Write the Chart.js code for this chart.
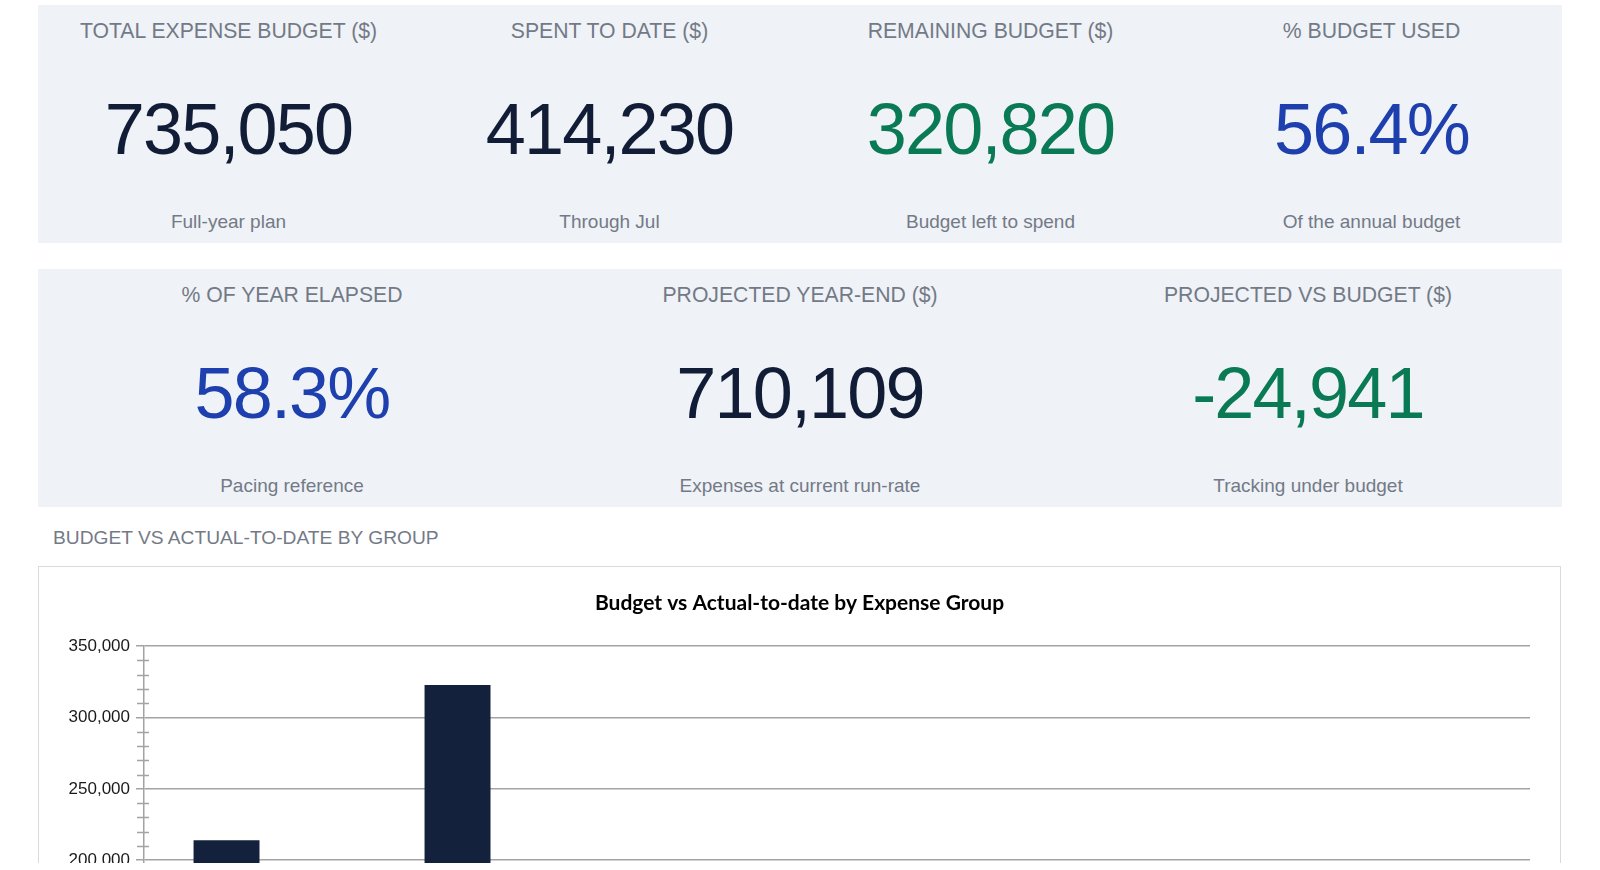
<!DOCTYPE html>
<html>
<head>
<meta charset="utf-8">
<title>Expense Budget Dashboard</title>
<script src="https://cdn.jsdelivr.net/npm/chart.js@4.4.1/dist/chart.umd.min.js"></script>
<style>
  html, body { margin: 0; padding: 0; background: #fff; }
  body { font-family: "Liberation Sans", Arial, sans-serif; }
  #page { position: relative; width: 1600px; height: 863px; overflow: hidden; }
  .panel { position: absolute; left: 38px; width: 1524px; height: 238px; background: #eff2f6; display: flex; }
  .kpi { position: relative; flex: 1; text-align: center; }
  .kpi .label { position: absolute; left: 0; right: 0; top: 14px; font-size: 21.2px; line-height: 24px; color: #737a87; }
  .kpi .value { position: absolute; left: 0; right: 0; top: 84px; font-size: 72px; line-height: 80px; letter-spacing: -1.8px; color: #111c36; }
  .kpi .sub { position: absolute; left: 0; right: 0; top: 206px; font-size: 19px; line-height: 22px; color: #737a87; }
  .green { color: #0a7a55 !important; }
  .blue { color: #1e40af !important; }
  #section { position: absolute; left: 53px; top: 527px; font-size: 19.2px; line-height: 22px; color: #737a87; }
  #chartBox { position: absolute; left: 38px; top: 566px; width: 1521px; height: 700px; border: 1px solid #dadada; background: #fff; }
  #chartBox canvas { position: absolute; left: 0; top: 0; }
</style>
</head>
<body>
<div id="page">
  <div class="panel" style="top:5px">
    <div class="kpi"><div class="label">TOTAL EXPENSE BUDGET ($)</div><div class="value">735,050</div><div class="sub">Full-year plan</div></div>
    <div class="kpi"><div class="label">SPENT TO DATE ($)</div><div class="value">414,230</div><div class="sub">Through Jul</div></div>
    <div class="kpi"><div class="label">REMAINING BUDGET ($)</div><div class="value green">320,820</div><div class="sub">Budget left to spend</div></div>
    <div class="kpi"><div class="label">% BUDGET USED</div><div class="value blue">56.4%</div><div class="sub">Of the annual budget</div></div>
  </div>
  <div class="panel" style="top:269px">
    <div class="kpi"><div class="label">% OF YEAR ELAPSED</div><div class="value blue">58.3%</div><div class="sub">Pacing reference</div></div>
    <div class="kpi"><div class="label">PROJECTED YEAR-END ($)</div><div class="value">710,109</div><div class="sub">Expenses at current run-rate</div></div>
    <div class="kpi"><div class="label">PROJECTED VS BUDGET ($)</div><div class="value green">-24,941</div><div class="sub">Tracking under budget</div></div>
  </div>
  <div id="section">BUDGET VS ACTUAL-TO-DATE BY GROUP</div>
  <div id="chartBox"><canvas id="graph" width="1521" height="668" style="width:1521px;height:668px"></canvas></div>
</div>
<script>
var groups = ['Personnel', 'Payroll & Benefits', 'Facilities', 'Technology', 'Marketing', 'Professional Services'];
var budget = [214000, 322800, 62400, 48650, 51200, 36000];
var actual = [118900, 187600, 36200, 27430, 24900, 19200];
var yTicks = [0, 50000, 100000, 150000, 200000, 250000, 300000, 350000];

var gridGrey = '#a3a3a3';

// LibreOffice-style minor tick marks on the value axis
var minorTicks = {
    id: 'minorTicks',
    afterDraw: function (chart) {
        var y = chart.scales.y;
        var c = chart.ctx;
        var x0 = y.right;
        c.save();
        c.strokeStyle = gridGrey;
        c.lineWidth = 1.5;
        for (var v = y.min; v <= y.max; v += 10000) {
            if (v % 50000 === 0) continue;
            var py = Math.round(y.getPixelForValue(v)) + 0.5;
            c.beginPath();
            c.moveTo(x0 - 7, py);
            c.lineTo(x0 + 5, py);
            c.stroke();
        }
        c.restore();
    }
};

var ctx = document.getElementById('graph');
var graph = new Chart(ctx, {
    type: 'bar',
    data: {
        labels: groups,
        datasets: [{
            label: 'Budget',
            data: budget,
            backgroundColor: '#14213d',
            borderWidth: 0,
            categoryPercentage: 0.571,
            barPercentage: 1.0
        }, {
            label: 'Actual-to-date',
            data: actual,
            backgroundColor: '#7f93b5',
            borderWidth: 0,
            categoryPercentage: 0.571,
            barPercentage: 1.0
        }]
    },
    options: {
        responsive: false,
        animation: false,
        layout: { padding: { left: 30, right: 30, top: 0, bottom: 10 } },
        plugins: {
            title: {
                display: true,
                text: 'Budget vs Actual-to-date by Expense Group',
                color: '#000',
                font: { family: 'Lato', size: 21, weight: 'bold' },
                padding: { top: 24, bottom: 30 }
            },
            legend: {
                position: 'bottom',
                labels: { color: '#222', font: { family: 'Liberation Sans', size: 15 } }
            },
            tooltip: { enabled: false }
        },
        scales: {
            x: {
                grid: { display: false },
                border: { color: gridGrey, width: 1.5 },
                ticks: { color: '#222', padding: 8, font: { family: 'Liberation Sans', size: 17 } }
            },
            y: {
                min: yTicks[0],
                max: yTicks[yTicks.length - 1],
                afterFit: function (scale) { scale.width = 75; },
                afterBuildTicks: function (scale) {
                    scale.ticks = yTicks.map(function (v) { return { value: v }; });
                },
                grid: { color: gridGrey, lineWidth: 1.5, tickLength: 8 },
                border: { color: gridGrey, width: 1.5 },
                ticks: {
                    color: '#1a1a1a',
                    padding: 6,
                    font: { family: 'Liberation Sans', size: 17 },
                    callback: function (v) { return v.toLocaleString('en-US'); }
                }
            }
        }
    },
    plugins: [minorTicks]
});
</script>
</body>
</html>
